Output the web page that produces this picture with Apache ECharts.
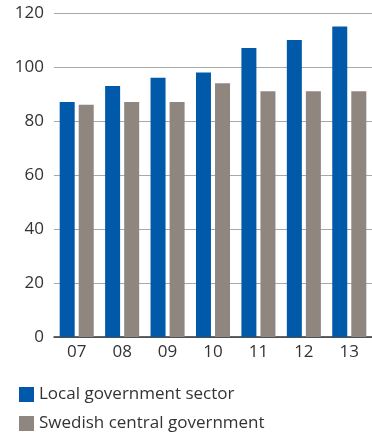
<!DOCTYPE html>
<html>
<head>
<meta charset="utf-8">
<script src="https://cdn.jsdelivr.net/npm/echarts@6/dist/echarts.min.js"></script>
<style>
  html, body { margin: 0; padding: 0; background: #fff; }
  #chart { width: 372px; height: 434px; }
</style>
</head>
<body>
<div id="chart"></div>
<script>
// years (two-digit)
const years = ["07", "08", "09", "10", "11", "12", "13"];
// index values
const localGov = [87, 93, 96, 98, 107, 110, 115];
const centralGov = [86, 87, 87, 94, 91, 91, 91];
const seriesNames = ["Local government sector", "Swedish central government"];

const font = "'Open Sans', sans-serif";
const chart = echarts.init(document.getElementById("chart"));

// one legend per row, stacked
const legendRow = (name, top) => ({
  left: 19,
  top: top,
  padding: 0,
  itemWidth: 15,
  itemHeight: 15,
  icon: "rect",
  textStyle: { fontSize: 17, color: "#333", fontFamily: font },
  data: [name],
});

const option = {
  animation: false,
  color: ["#005aa9", "#8f8680"],
  textStyle: { fontFamily: font },
  legend: [legendRow(seriesNames[0], 386), legendRow(seriesNames[1], 415)],
  grid: {
    left: 54,
    right: -9,
    top: 13,
    bottom: 97,
    containLabel: false,
  },
  xAxis: {
    type: "category",
    data: years,
    axisTick: { show: false },
    axisLine: { lineStyle: { color: "#333", width: 1.5 } },
    axisLabel: { color: "#333", fontSize: 17, margin: 7, fontFamily: font },
  },
  yAxis: {
    type: "value",
    min: 0,
    max: 120,
    interval: 20,
    axisLine: { show: false },
    axisTick: { show: false },
    axisLabel: { color: "#333", fontSize: 17, margin: 10, fontFamily: font },
    splitLine: { lineStyle: { color: "#a8a8a8", width: 1 } },
  },
  series: [
    {
      name: seriesNames[0],
      type: "bar",
      data: localGov,
      barWidth: 15,
      barGap: "27%",
    },
    {
      name: seriesNames[1],
      type: "bar",
      data: centralGov,
      barWidth: 15,
    },
  ],
};

chart.setOption(option);
</script>
</body>
</html>
